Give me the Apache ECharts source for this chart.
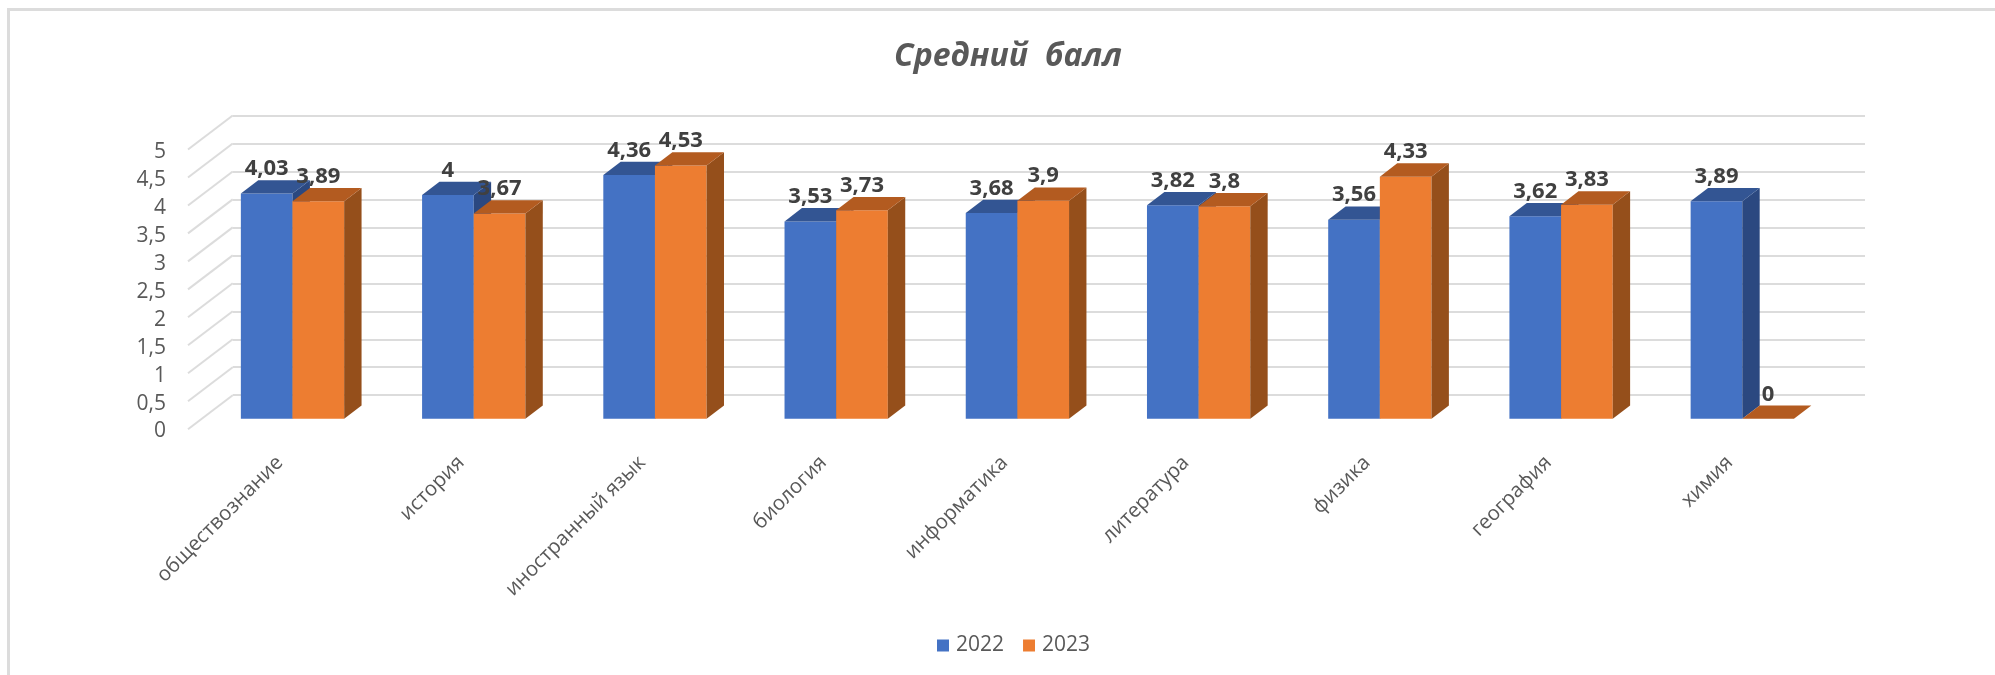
<!DOCTYPE html>
<html><head><meta charset="utf-8">
<style>html,body{margin:0;padding:0;background:#fff}#c{width:1995px;height:675px;filter:blur(0.4px)}</style>
<script src="https://cdn.jsdelivr.net/npm/echarts@6/dist/echarts.min.js"></script>
</head><body><div id="c"></div>
<script>
const categories = ['обществознание','история','иностранный язык','биология','информатика','литература','физика','география','химия'];
const values2022 = [4.03,4,4.36,3.53,3.68,3.82,3.56,3.62,3.89];
const values2023 = [3.89,3.67,4.53,3.73,3.9,3.8,4.33,3.83,0];
const yTicks = [0,0.5,1,1.5,2,2.5,3,3.5,4,4.5,5];

const FONT = '"Open Sans"';
const comma = v => String(v).replace('.', ',');
const DX = 17.4, DY = 13.3;      // depth of a bar
const WALL_DX = 44.7, WALL_DY = 34;

function barRender(slot, front, top, side) {
  return function (params, api) {
    const i = api.value(0), v = api.value(1);
    const c = api.coord([i, v]);
    const base = api.coord([i, 0]);
    const w = api.size([1, 0])[0] * 0.285;
    const x0 = c[0] + slot * w, x1 = x0 + w, yT = c[1], yB = base[1];
    const kids = [];
    if (v > 0) {
      kids.push({type:'rect', shape:{x:x0, y:yT, width:w, height:yB-yT}, style:{fill:front}});
      kids.push({type:'polygon', shape:{points:[[x1,yT],[x1+DX,yT-DY],[x1+DX,yB-DY],[x1,yB]]}, style:{fill:side}});
    }
    kids.push({type:'polygon', shape:{points:[[x0,yT],[x1,yT],[x1+DX,yT-DY],[x0+DX,yT-DY]]}, style:{fill:top}});
    kids.push({type:'text', z2:100, style:{text:comma(v), x:x0+w/2, y:yT-24.5, align:'center', verticalAlign:'middle',
      fill:'#404040', fontSize:22, fontWeight:'bold', fontFamily:FONT}});
    return {type:'group', children:kids};
  };
}

const option = {
  animation:false,
  backgroundColor:'#fff',
  title:{text:'Средний  балл', left:1003, top:36, textAlign:'center',
    textStyle:{fontFamily:FONT, fontSize:32, fontWeight:'bold', fontStyle:'italic', color:'#595959'}},
  legend:{left:937, top:635, padding:0, itemWidth:12, itemHeight:12, itemGap:19, selectedMode:false, icon:'rect',
    data:['2022','2023'], textStyle:{fontFamily:FONT, fontSize:21, color:'#595959', padding:[0,0,0,2]}},
  graphic:[
    {type:'polyline', silent:true, shape:{points:[[1995,9.5],[8.5,9.5],[8.5,675]]}, style:{stroke:'#dcdcdc', lineWidth:3, fill:null}}
  ],
  grid:[
    {left:232.7, top:115.5, width:1632.3, height:279.7},
    {left:201.9, top:139.2, width:1631, height:279.6},
    {left:188, top:152.5, width:44.7, height:279}
  ],
  xAxis:[
    {gridIndex:0, type:'value', min:0, max:1, show:false},
    {gridIndex:1, type:'category', data:categories, axisLine:{show:false}, axisTick:{show:false},
      axisLabel:{interval:0, rotate:45, margin:28, padding:[0,18,0,0], fontFamily:FONT, fontSize:20.4, color:'#595959'}},
    {gridIndex:2, type:'value', min:0, max:1, show:false}
  ],
  yAxis:[
    {gridIndex:0, type:'value', min:0, max:5, interval:0.5, axisLine:{show:false}, axisTick:{show:false}, axisLabel:{show:false},
      splitLine:{lineStyle:{color:'#dcdcdc', width:2}}},
    {gridIndex:1, type:'value', min:0, max:5, interval:0.5, axisLine:{show:false}, axisTick:{show:false}, axisLabel:{show:false}, splitLine:{show:false}},
    {gridIndex:2, type:'value', min:0, max:5, interval:0.5, axisLine:{show:false}, axisTick:{show:false}, splitLine:{show:false},
      axisLabel:{margin:22, formatter:comma, fontFamily:FONT, fontSize:21, color:'#595959'}}
  ],
  series:[
    {type:'custom', name:'walls', xAxisIndex:0, yAxisIndex:0, silent:true, clip:false, z:1,
      data:yTicks.map(v=>[0,v]),
      renderItem:function(p,api){
        const c = api.coord([0, api.value(1)]);
        return {type:'line', shape:{x1:c[0], y1:c[1], x2:c[0]-WALL_DX, y2:c[1]+WALL_DY}, style:{stroke:'#dcdcdc', lineWidth:2}};
      }},
    {type:'custom', name:'2022', xAxisIndex:1, yAxisIndex:1, silent:true, clip:false, z:3,
      itemStyle:{color:'#4472C4'}, data:values2022.map((v,i)=>[i,v]),
      renderItem:barRender(-1,'#4472C4','#335593','#2B4880')},
    {type:'custom', name:'2023', xAxisIndex:1, yAxisIndex:1, silent:true, clip:false, z:4,
      itemStyle:{color:'#ED7D31'}, data:values2023.map((v,i)=>[i,v]),
      renderItem:barRender(0,'#ED7D31','#B35B20','#954F1B')}
  ]
};
const chart = echarts.init(document.getElementById('c'), null, {renderer:'canvas'});
chart.setOption(option);
</script></body></html>
